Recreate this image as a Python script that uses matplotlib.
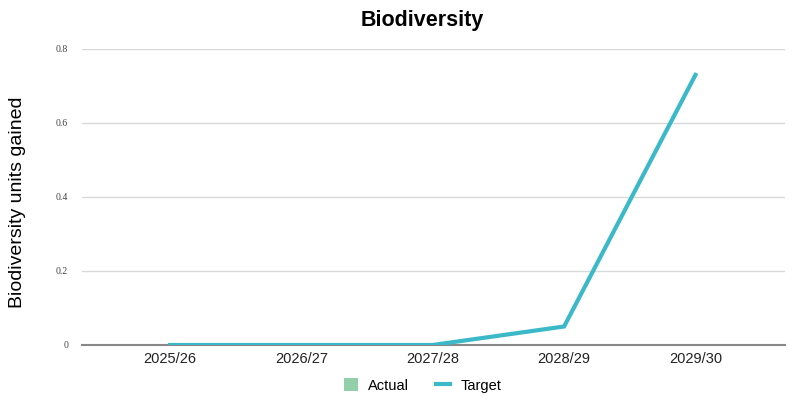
import matplotlib
matplotlib.use("Agg")
import matplotlib.pyplot as plt
from matplotlib.patches import Patch
from matplotlib.lines import Line2D

categories = ["2025/26", "2026/27", "2027/28", "2028/29", "2029/30"]
target = [0, 0, 0, 0.05, 0.73]
yticks = [0, 0.2, 0.4, 0.6, 0.8]
ytick_labels = ["0", "0.2", "0.4", "0.6", "0.8"]

plt.rcParams['font.family'] = ['Liberation Sans', 'DejaVu Sans']
fig = plt.figure(figsize=(8, 4.11), dpi=100)
ax = fig.add_axes([0.1025, 0.1606, 0.8785, 0.7202])

x = list(range(len(categories)))
ax.plot(x, target, color="#3bb9c9", lw=3, solid_joinstyle='miter', zorder=3)
ax.set_xlim(-0.67, 4.68)
ax.set_ylim(0, 0.8)
ax.set_yticks(yticks)
ax.set_yticklabels(ytick_labels, fontsize=7, family=['Liberation Serif'], color='#444444')
ax.set_xticks(x)
ax.set_xticklabels(categories, fontsize=10.5, color='#222222')
ax.tick_params(axis='both', length=0, pad=5)
ax.tick_params(axis='y', pad=10)
ax.grid(axis='y', color='#d9d9d9', lw=1)
for s in ['top', 'right', 'left']:
    ax.spines[s].set_visible(False)
ax.spines['bottom'].set_color('#888888')
ax.spines['bottom'].set_linewidth(1.5)
ax.set_axisbelow(True)

fig.text(0.528, 0.95, "Biodiversity", ha='center', va='center', fontsize=15.5, fontweight='bold')
fig.text(0.0215, 0.508, "Biodiversity units gained", rotation=90, ha='center', va='center', fontsize=14)

handles = [Patch(facecolor="#93cfa8", edgecolor='none', label="Actual"),
           Line2D([0], [0], color="#3bb9c9", lw=3, label="Target")]
fig.legend(handles=handles, loc='center', bbox_to_anchor=(0.528, 0.062), ncol=2, frameon=False,
           fontsize=10.5, handlelength=1.0, handleheight=1.0, columnspacing=1.8, handletextpad=0.7)

fig.savefig("out.png", dpi=100)
